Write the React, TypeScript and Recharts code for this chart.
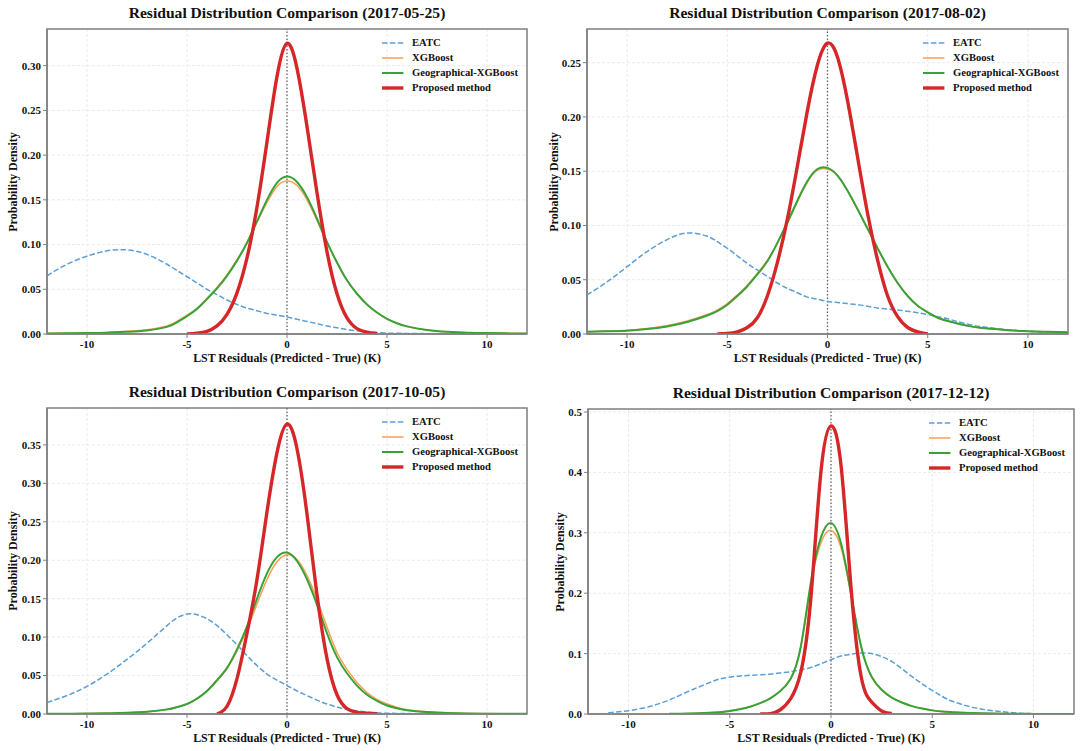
import React from 'react';
import { LineChart, Line, XAxis, YAxis, CartesianGrid, ReferenceLine, ReferenceArea } from 'recharts';

// shared residual grid (K)
const xs = [-12, -11, -10, -9, -8, -7, -6, -5.5, -5, -4.5, -4, -3.5, -3, -2.5, -2, -1.5, -1, -0.5, 0, 0.5, 1, 1.5, 2, 2.5, 3, 3.5, 4, 4.5, 5, 5.5, 6, 7, 8, 9, 10, 11, 12];
const xTicks = [-10, -5, 0, 5, 10];

// 2017-05-25
const eatc0525 = [0.065, 0.078, 0.087, 0.093, 0.094, 0.089, 0.078, 0.071, 0.064, 0.057, 0.05, 0.044, 0.038, 0.033, 0.029, 0.026, 0.023, 0.021, 0.019, 0.0165, 0.014, 0.0115, 0.009, 0.007, 0.005, 0.0035, 0.0025, 0.0015, 0.001, 0.0008, 0.0006, 0.0004, 0.0003, 0.0002, 0.0001, 0.0001, 0.0001];
const xgb0525 = [0.0006, 0.0009, 0.0012, 0.0018, 0.003, 0.0048, 0.009, 0.014, 0.021, 0.029, 0.04, 0.052, 0.066, 0.083, 0.102, 0.125, 0.147, 0.165, 0.171, 0.166, 0.15, 0.127, 0.102, 0.08, 0.06, 0.045, 0.033, 0.024, 0.017, 0.012, 0.0085, 0.0045, 0.0025, 0.0015, 0.001, 0.0007, 0.0005];
const geo0525 = [0.0005, 0.0007, 0.001, 0.0015, 0.0025, 0.004, 0.008, 0.013, 0.02, 0.028, 0.039, 0.051, 0.065, 0.082, 0.102, 0.126, 0.15, 0.169, 0.176, 0.17, 0.153, 0.129, 0.103, 0.08, 0.06, 0.045, 0.033, 0.024, 0.017, 0.012, 0.0085, 0.0045, 0.0025, 0.0015, 0.001, 0.0007, 0.0005];
const prop0525 = [null, null, null, null, null, null, null, null, 0, 0.001, 0.003, 0.009, 0.022, 0.046, 0.085, 0.142, 0.215, 0.288, 0.325, 0.297, 0.232, 0.158, 0.092, 0.045, 0.018, 0.006, 0.002, 0.0005, null, null, null, null, null, null, null, null, null];

// 2017-08-02
const eatc0802 = [0.036, 0.048, 0.062, 0.076, 0.087, 0.093, 0.09, 0.085, 0.079, 0.072, 0.065, 0.059, 0.053, 0.047, 0.042, 0.038, 0.034, 0.032, 0.03, 0.029, 0.028, 0.027, 0.0255, 0.024, 0.023, 0.022, 0.021, 0.0195, 0.018, 0.016, 0.014, 0.009, 0.006, 0.004, 0.0025, 0.0015, 0.001];
const xgb0802 = [0.002, 0.0027, 0.0035, 0.005, 0.0078, 0.012, 0.018, 0.022, 0.028, 0.036, 0.045, 0.056, 0.068, 0.084, 0.102, 0.122, 0.14, 0.151, 0.152, 0.146, 0.132, 0.115, 0.097, 0.079, 0.062, 0.047, 0.035, 0.026, 0.02, 0.015, 0.012, 0.0075, 0.005, 0.0035, 0.0025, 0.002, 0.0015];
const geo0802 = [0.002, 0.0025, 0.003, 0.0045, 0.007, 0.011, 0.017, 0.021, 0.027, 0.035, 0.044, 0.055, 0.067, 0.084, 0.103, 0.123, 0.141, 0.152, 0.153, 0.146, 0.132, 0.115, 0.097, 0.079, 0.062, 0.047, 0.035, 0.026, 0.02, 0.015, 0.012, 0.0075, 0.005, 0.0035, 0.0025, 0.002, 0.0015];
const prop0802 = [null, null, null, null, null, null, null, 0, 0.0005, 0.002, 0.006, 0.015, 0.035, 0.066, 0.106, 0.155, 0.206, 0.248, 0.268, 0.255, 0.215, 0.163, 0.111, 0.068, 0.035, 0.016, 0.006, 0.002, 0, null, null, null, null, null, null, null, null];

// 2017-10-05
const eatc1005 = [0.015, 0.024, 0.036, 0.052, 0.071, 0.092, 0.115, 0.125, 0.13, 0.129, 0.124, 0.115, 0.103, 0.09, 0.076, 0.063, 0.052, 0.044, 0.037, 0.03, 0.024, 0.018, 0.013, 0.009, 0.006, 0.004, 0.0025, 0.0015, 0.001, 0.0007, 0.0005, 0.0003, 0.0002, 0.0001, 0.0001, 0.0001, 0.0001];
const xgb1005 = [0.0003, 0.0004, 0.0006, 0.001, 0.0017, 0.003, 0.006, 0.009, 0.013, 0.02, 0.03, 0.043, 0.059, 0.082, 0.11, 0.143, 0.175, 0.198, 0.207, 0.201, 0.18, 0.149, 0.113, 0.08, 0.058, 0.041, 0.028, 0.019, 0.013, 0.0085, 0.0055, 0.003, 0.0015, 0.0008, 0.0005, 0.0003, 0.0002];
const geo1005 = [0.0003, 0.0004, 0.0006, 0.001, 0.0017, 0.003, 0.006, 0.009, 0.013, 0.02, 0.03, 0.044, 0.06, 0.084, 0.114, 0.15, 0.183, 0.204, 0.21, 0.199, 0.175, 0.142, 0.105, 0.074, 0.053, 0.037, 0.025, 0.017, 0.011, 0.0075, 0.005, 0.0025, 0.0012, 0.0007, 0.0004, 0.0003, 0.0002];
const prop1005 = [null, null, null, null, null, null, null, null, null, null, null, 0, 0.01, 0.046, 0.105, 0.175, 0.263, 0.34, 0.377, 0.345, 0.26, 0.155, 0.072, 0.025, 0.007, 0.002, 0.001, 0.0003, null, null, null, null, null, null, null, null, null];

// 2017-12-12
const eatc1212 = [null, 0.002, 0.0055, 0.012, 0.023, 0.038, 0.052, 0.058, 0.061, 0.063, 0.064, 0.065, 0.066, 0.068, 0.07, 0.073, 0.077, 0.083, 0.09, 0.096, 0.099, 0.101, 0.1, 0.095, 0.087, 0.075, 0.062, 0.05, 0.039, 0.029, 0.021, 0.011, 0.0055, 0.002, 0.0005, null, null];
const xgb1212 = [0.0001, 0.0001, 0.0002, 0.0003, 0.0005, 0.001, 0.0022, 0.0033, 0.0052, 0.0082, 0.012, 0.018, 0.026, 0.038, 0.058, 0.11, 0.212, 0.283, 0.304, 0.275, 0.195, 0.11, 0.062, 0.04, 0.027, 0.019, 0.013, 0.009, 0.0062, 0.0042, 0.003, 0.0015, 0.0008, 0.0004, 0.0002, 0.0001, 0.0001];
const geo1212 = [null, null, null, null, 0.0003, 0.0008, 0.002, 0.003, 0.005, 0.008, 0.012, 0.018, 0.026, 0.038, 0.058, 0.11, 0.217, 0.292, 0.316, 0.282, 0.197, 0.11, 0.062, 0.04, 0.027, 0.019, 0.013, 0.009, 0.006, 0.004, 0.003, 0.0015, 0.0008, 0.0004, 0.0002, 0.0001, 0.0001];
const prop1212 = [null, null, null, null, null, null, null, null, null, null, null, 0, 0.0005, 0.007, 0.025, 0.068, 0.19, 0.4, 0.477, 0.41, 0.205, 0.06, 0.02, 0.005, 0.001, null, null, null, null, null, null, null, null, null, null, null, null];

const FONT = '"Liberation Serif", "DejaVu Serif", serif';
const FRAME = '#808080';

const SERIES = [
  { key: 'eatc', name: 'EATC', color: '#5b9fd6', width: 1.5, dash: '5.5 2.4' },
  { key: 'xgb', name: 'XGBoost', color: '#ff9d52', width: 1.5, dash: undefined },
  { key: 'geo', name: 'Geographical-XGBoost', color: '#38a238', width: 2, dash: undefined },
  { key: 'prop', name: 'Proposed method', color: '#d62728', width: 3.4, dash: undefined },
];

const PANELS = [
  { date: '2017-05-25', eatc: eatc0525, xgb: xgb0525, geo: geo0525, prop: prop0525, yMax: 0.341, yTicks: [0, 0.05, 0.1, 0.15, 0.2, 0.25, 0.3], digits: 2, left: 0, top: 0, h: 375, mTop: 29, mRight: 13, mBottom: 21, yw: 47, yLabelX: 12.5 },
  { date: '2017-08-02', eatc: eatc0802, xgb: xgb0802, geo: geo0802, prop: prop0802, yMax: 0.281, yTicks: [0, 0.05, 0.1, 0.15, 0.2, 0.25], digits: 2, left: 540, top: 0, h: 375, mTop: 29, mRight: 12, mBottom: 21, yw: 47, yLabelX: 14 },
  { date: '2017-10-05', eatc: eatc1005, xgb: xgb1005, geo: geo1005, prop: prop1005, yMax: 0.398, yTicks: [0, 0.05, 0.1, 0.15, 0.2, 0.25, 0.3, 0.35], digits: 2, left: 0, top: 375, h: 376, mTop: 33, mRight: 13, mBottom: 17, yw: 47, yLabelX: 12.5 },
  { date: '2017-12-12', eatc: eatc1212, xgb: xgb1212, geo: geo1212, prop: prop1212, yMax: 0.505, yTicks: [0, 0.1, 0.2, 0.3, 0.4, 0.5], digits: 1, left: 540, top: 375, h: 376, mTop: 34, mRight: 6, mBottom: 17, yw: 48, yLabelX: 19.5 },
];

const W = 540;
const X_AXIS_H = 20;

function Panel({ p }: { p: (typeof PANELS)[number] }) {
  const rows = xs.map((x, i) => ({ x, eatc: p.eatc[i], xgb: p.xgb[i], geo: p.geo[i], prop: p.prop[i] }));
  const plotLeft = p.yw;
  const plotRight = W - p.mRight;
  const plotTop = p.mTop;
  const plotBottom = p.h - p.mBottom - X_AXIS_H;
  const cx = (plotLeft + plotRight) / 2;
  const tickStyle = { fontFamily: FONT, fontWeight: 700, fontSize: 11, fill: '#111' };

  return (
    <div style={{ position: 'absolute', left: p.left, top: p.top, width: W, height: p.h }}>
      <LineChart width={W} height={p.h} data={rows} margin={{ top: p.mTop, right: p.mRight, bottom: p.mBottom, left: 0 }}>
        <CartesianGrid stroke="#e6e6e6" strokeDasharray="3 2" strokeWidth={0.8} />
        <XAxis
          dataKey="x"
          type="number"
          domain={[-12, 12]}
          ticks={xTicks}
          allowDataOverflow
          height={X_AXIS_H}
          tick={tickStyle}
          tickSize={4}
          tickLine={{ stroke: FRAME }}
          axisLine={{ stroke: FRAME, strokeWidth: 1.5 }}
        />
        <YAxis
          type="number"
          domain={[0, p.yMax]}
          ticks={p.yTicks}
          allowDataOverflow
          width={p.yw}
          tick={tickStyle}
          tickSize={4}
          tickLine={{ stroke: FRAME }}
          axisLine={{ stroke: FRAME, strokeWidth: 1.5 }}
          tickFormatter={(v: number) => v.toFixed(p.digits)}
        />
        <ReferenceArea x1={-12} x2={12} y1={0} y2={p.yMax} fill="none" stroke={FRAME} strokeWidth={1.5} ifOverflow="visible" />
        <ReferenceLine x={0} stroke="#666" strokeDasharray="1.5 2" strokeWidth={1.3} />
        {SERIES.map((s) => (
          <Line
            key={s.key}
            type="natural"
            dataKey={s.key}
            name={s.name}
            stroke={s.color}
            strokeWidth={s.width}
            strokeDasharray={s.dash}
            dot={false}
            activeDot={false}
            connectNulls={false}
            isAnimationActive={false}
          />
        ))}
      </LineChart>

      <div style={{ position: 'absolute', left: cx - 200, width: 400, top: plotTop - 26, height: 20, lineHeight: '20px', textAlign: 'center', fontFamily: FONT, fontWeight: 700, fontSize: 15.6, color: '#111' }}>
        Residual Distribution Comparison ({p.date})
      </div>
      <div style={{ position: 'absolute', left: cx - 150, width: 300, top: plotBottom + 16, height: 16, lineHeight: '16px', textAlign: 'center', fontFamily: FONT, fontWeight: 700, fontSize: 11.9, color: '#111' }}>
        LST Residuals (Predicted - True) (K)
      </div>
      <div style={{ position: 'absolute', left: p.yLabelX - 80, top: (plotTop + plotBottom) / 2 - 8, width: 160, height: 16, lineHeight: '16px', textAlign: 'center', transform: 'rotate(-90deg)', fontFamily: FONT, fontWeight: 700, fontSize: 12, color: '#111' }}>
        Probability Density
      </div>

      {SERIES.map((s, i) => (
        <div key={s.key} style={{ position: 'absolute', left: plotRight - 145.5, top: plotTop + 13.7 + 15 * i - 7, height: 14, display: 'flex', alignItems: 'center' }}>
          <svg width={22} height={14} style={{ display: 'block' }}>
            <line x1={0} x2={21.4} y1={7} y2={7} stroke={s.color} strokeWidth={s.width} strokeDasharray={s.dash} />
          </svg>
          <span style={{ marginLeft: 8.5, fontFamily: FONT, fontWeight: 700, fontSize: 10.6, color: '#111', whiteSpace: 'nowrap', lineHeight: '14px' }}>{s.name}</span>
        </div>
      ))}
    </div>
  );
}

export default function App() {
  return (
    <div style={{ position: 'relative', width: 1081, height: 751, background: '#fff' }}>
      <style>{'body{margin:0}'}</style>
      {PANELS.map((p) => (
        <Panel key={p.date} p={p} />
      ))}
    </div>
  );
}
